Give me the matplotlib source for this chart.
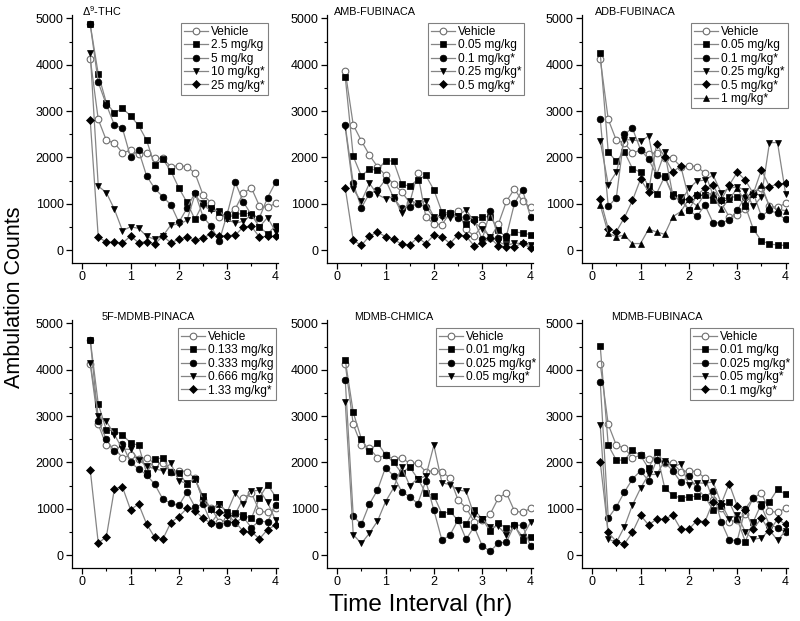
import matplotlib
matplotlib.use('Agg')
import matplotlib.pyplot as plt
from matplotlib.ticker import MultipleLocator

plt.rcParams['font.family'] = ['Liberation Sans', 'DejaVu Sans']
plt.rcParams['mathtext.fontset'] = 'custom'
plt.rcParams['mathtext.rm'] = 'Liberation Sans'
plt.rcParams['mathtext.it'] = 'Liberation Sans'

# ---------------- data ----------------
time_hr = [0.167, 0.333, 0.5, 0.667, 0.833, 1.0, 1.167, 1.333, 1.5, 1.667, 1.833, 2.0,
           2.167, 2.333, 2.5, 2.667, 2.833, 3.0, 3.167, 3.333, 3.5, 3.667, 3.833, 4.0]

vehicle = [4130, 2820, 2370, 2310, 2100, 2150, 2080, 2100, 1980, 1980, 1800, 1820,
           1800, 1660, 1190, 1020, 720, 750, 890, 1230, 1340, 950, 920, 1010]

thc_2_5 = [4870, 3800, 3180, 2960, 3060, 2900, 2690, 2370, 1830, 1960, 1710, 1340,
           1030, 660, 1010, 900, 830, 700, 760, 800, 780, 500, 350, 520]
thc_5 = [4870, 3620, 3140, 2700, 2630, 2010, 2150, 1600, 1330, 1150, 980, 600,
         900, 1240, 720, 510, 190, 780, 1460, 1040, 760, 700, 1130, 1460]
thc_10 = [4250, 1380, 1240, 880, 420, 500, 470, 300, 230, 300, 540, 560,
          640, 1200, 960, 860, 850, 660, 580, 620, 760, 500, 700, 400]
thc_25 = [2800, 280, 170, 170, 150, 300, 160, 180, 130, 300, 160, 230,
          280, 210, 260, 350, 310, 310, 320, 500, 510, 280, 300, 300]

amb_vehicle = [3860, 2700, 2360, 2050, 1800, 1610, 1420, 1260, 1020, 1660, 720, 560,
               550, 800, 840, 450, 300, 530, 260, 560, 1050, 1320, 1050, 920]
amb_0_05 = [3740, 2020, 1600, 1750, 1720, 1930, 1920, 1420, 1380, 1520, 1610, 1300,
            820, 800, 730, 560, 680, 720, 720, 440, 260, 390, 370, 330]
amb_0_1 = [2690, 1440, 910, 1220, 1290, 1520, 1130, 900, 930, 1000, 930, 700,
           760, 780, 700, 720, 640, 230, 850, 270, 300, 1010, 1300, 710]
amb_0_25 = [2650, 1310, 1050, 1440, 1200, 1110, 1150, 810, 1050, 1020, 1050, 720,
            720, 690, 740, 870, 610, 450, 290, 180, 100, 150, 140, 100]
amb_0_5 = [1340, 210, 100, 300, 390, 290, 230, 130, 110, 270, 140, 320,
           290, 140, 330, 300, 90, 150, 260, 90, 70, 70, 150, 40]

adb_0_05 = [4250, 2110, 1920, 2120, 1760, 1680, 1380, 1220, 1590, 1200, 1150, 860,
            1190, 1190, 1080, 1080, 1140, 1150, 950, 450, 200, 130, 110, 100]
adb_0_1 = [2830, 940, 1130, 2500, 2630, 2170, 1960, 1620, 1580, 1170, 1080, 860,
           730, 970, 590, 590, 650, 860, 1150, 1230, 730, 860, 790, 660]
adb_0_25 = [2360, 1410, 1680, 2380, 2380, 2350, 2460, 1620, 2110, 1190, 1040, 1330,
            1490, 1510, 1620, 1240, 1330, 1370, 1280, 940, 1150, 2320, 2320, 1220]
adb_0_5 = [1100, 460, 400, 700, 1070, 1530, 1260, 2290, 2010, 1690, 1810, 1110,
           1190, 1330, 1400, 1080, 1400, 1680, 1510, 1220, 1730, 1370, 1420, 1440]
adb_1 = [970, 360, 290, 320, 140, 140, 450, 390, 340, 720, 830, 1100,
         950, 1220, 1210, 890, 1100, 1330, 1040, 1220, 1400, 940, 880, 850]

f5_0_133 = [4650, 3260, 2700, 2680, 2600, 2420, 2370, 1770, 2070, 2100, 1790, 1780,
            1530, 1640, 1270, 990, 1110, 900, 900, 860, 790, 1240, 1520, 1260]
f5_0_333 = [4650, 2900, 2500, 2240, 2390, 2000, 1860, 1730, 1530, 1210, 1120, 1070,
            1360, 1040, 1100, 700, 650, 700, 700, 820, 590, 740, 710, 1070]
f5_0_666 = [4150, 3000, 2890, 2600, 2290, 2280, 2060, 1920, 1860, 1820, 1980, 1600,
            1550, 1650, 1190, 980, 1100, 930, 1340, 1110, 1380, 1400, 1140, 750]
f5_1_33 = [1840, 260, 390, 1430, 1470, 980, 1100, 670, 380, 340, 700, 830,
           1010, 960, 790, 690, 930, 870, 710, 510, 500, 350, 550, 650]

ch_0_01 = [4210, 3080, 2510, 2240, 2420, 2170, 2000, 1770, 1900, 1650, 1340, 1280,
           890, 940, 750, 660, 980, 780, 510, 690, 580, 640, 320, 400]
ch_0_025 = [3780, 840, 660, 1100, 1400, 1890, 1710, 1370, 1260, 1110, 1600, 970,
            320, 430, 760, 340, 610, 200, 80, 260, 280, 650, 640, 190]
ch_0_05 = [3300, 440, 250, 470, 730, 1150, 1450, 1900, 1500, 1650, 1700, 2370,
           1560, 1520, 1400, 1380, 860, 780, 600, 620, 430, 620, 400, 710]

mf_0_01 = [4510, 2370, 2050, 2050, 2260, 2150, 1870, 2230, 1450, 1290, 1230, 1260,
           1270, 1260, 970, 1060, 1150, 770, 290, 720, 1110, 1150, 1420, 1310]
mf_0_025 = [3740, 800, 1040, 1360, 1640, 1820, 1600, 2050, 2000, 1820, 1570, 1700,
            1440, 1250, 1380, 720, 330, 310, 1000, 1240, 1050, 650, 590, 500]
mf_0_05 = [2800, 345, 270, 610, 1080, 1440, 1740, 1740, 2030, 1900, 1970, 1510,
           1560, 1550, 1580, 1120, 780, 870, 500, 340, 370, 540, 320, 520]
mf_0_1 = [2010, 490, 290, 240, 490, 860, 650, 775, 775, 860, 560, 560,
          740, 720, 1150, 1100, 1540, 1060, 970, 560, 800, 520, 775, 660]

x_ticks = [0, 1, 2, 3, 4]
y_ticks = [0, 1000, 2000, 3000, 4000, 5000]

panels = [
    dict(title='\u0394$^{9}$-THC', tx=0.0,
         series=[('Vehicle', vehicle), ('2.5 mg/kg', thc_2_5), ('5 mg/kg', thc_5),
                 ('10 mg/kg*', thc_10), ('25 mg/kg*', thc_25)]),
    dict(title='AMB-FUBINACA', tx=-0.07,
         series=[('Vehicle', amb_vehicle), ('0.05 mg/kg', amb_0_05), ('0.1 mg/kg*', amb_0_1),
                 ('0.25 mg/kg*', amb_0_25), ('0.5 mg/kg*', amb_0_5)]),
    dict(title='ADB-FUBINACA', tx=0.05,
         series=[('Vehicle', vehicle), ('0.05 mg/kg', adb_0_05), ('0.1 mg/kg*', adb_0_1),
                 ('0.25 mg/kg*', adb_0_25), ('0.5 mg/kg*', adb_0_5), ('1 mg/kg*', adb_1)]),
    dict(title='5F-MDMB-PINACA', tx=0.41,
         series=[('Vehicle', vehicle), ('0.133 mg/kg', f5_0_133), ('0.333 mg/kg', f5_0_333),
                 ('0.666 mg/kg', f5_0_666), ('1.33 mg/kg*', f5_1_33)]),
    dict(title='MDMB-CHMICA', tx=0.36,
         series=[('Vehicle', vehicle), ('0.01 mg/kg', ch_0_01), ('0.025 mg/kg*', ch_0_025),
                 ('0.05 mg/kg*', ch_0_05)]),
    dict(title='MDMB-FUBINACA', tx=0.40,
         series=[('Vehicle', vehicle), ('0.01 mg/kg', mf_0_01), ('0.025 mg/kg*', mf_0_025),
                 ('0.05 mg/kg*', mf_0_05), ('0.1 mg/kg*', mf_0_1)]),
]

# ---------------- style ----------------
markers = ['o', 's', 'o', 'v', 'D', '^']
msizes = [4.8, 4.5, 4.8, 5.0, 4.0, 5.0]
line_gray = '#858585'

W, H = 800, 621
fig = plt.figure(figsize=(W / 100, H / 100), dpi=100)

col_left = [72, 327, 582]
row_bottom = [263, 568]
ax_w, ax_h = 206, 248
leg_x = [0.529, 0.489, 0.53, 0.515, 0.528, 0.526]

for k, p in enumerate(panels):
    r, c = divmod(k, 3)
    ax = fig.add_axes([col_left[c] / W, 1 - row_bottom[r] / H, ax_w / W, ax_h / H])
    for j, (lab, vals) in enumerate(p['series']):
        if j == 0:
            ax.plot(time_hr, vals, color=line_gray, lw=0.9, marker='o', ms=msizes[0],
                    mfc='white', mec='#6e6e6e', mew=0.8, label=lab, zorder=2)
        else:
            ax.plot(time_hr, vals, color=line_gray, lw=0.9, marker=markers[j], ms=msizes[j],
                    mfc='black', mec='black', mew=0.5, label=lab, zorder=3)
    ax.set_xlim(-0.21, 4.05)
    ax.set_ylim(-280, 5075)
    ax.set_xticks(x_ticks)
    ax.set_yticks(y_ticks)
    ax.xaxis.set_minor_locator(MultipleLocator(0.5))
    ax.yaxis.set_minor_locator(MultipleLocator(500))
    ax.tick_params(which='major', direction='out', length=4, width=0.9, labelsize=9, pad=2)
    ax.tick_params(which='minor', direction='out', length=2, width=0.8)
    for s in ['top', 'right']:
        ax.spines[s].set_visible(False)
    for s in ['left', 'bottom']:
        ax.spines[s].set_linewidth(0.9)
    ax.text(p['tx'], 5150, p['title'], fontsize=7.8, ha='left', va='center', clip_on=False)
    leg = ax.legend(loc='upper left', bbox_to_anchor=(leg_x[k], 0.968), fontsize=8.6,
                    frameon=True, fancybox=False, edgecolor='#808080', framealpha=1,
                    handlelength=2.0, handletextpad=0.25, borderpad=0.25,
                    labelspacing=0.12, borderaxespad=0.0, numpoints=1)
    leg.get_frame().set_linewidth(0.8)

fig.text(0.018, 0.522, 'Ambulation Counts', rotation=90, ha='center', va='center', fontsize=15.5)
fig.text(0.526, 0.026, 'Time Interval (hr)', ha='center', va='center', fontsize=17.5)

fig.savefig('out.png', dpi=100)
